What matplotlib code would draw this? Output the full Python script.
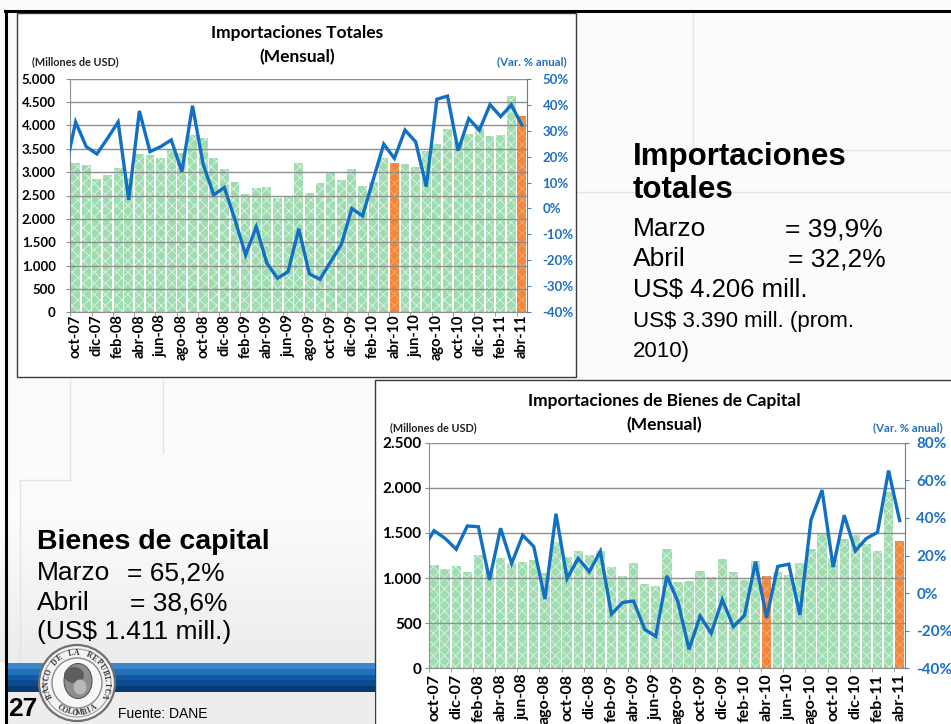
import numpy as np
import matplotlib
matplotlib.use('Agg')
import matplotlib.pyplot as plt
from matplotlib.patches import Rectangle, Circle, Ellipse

plt.rcParams['font.family'] = ['Lato', 'DejaVu Sans']
plt.rcParams['hatch.linewidth'] = 0.5

W, H = 951, 724

# ---------------- data ----------------
months = ['oct-07', 'nov-07', 'dic-07', 'ene-08', 'feb-08', 'mar-08', 'abr-08', 'may-08',
          'jun-08', 'jul-08', 'ago-08', 'sep-08', 'oct-08', 'nov-08', 'dic-08', 'ene-09',
          'feb-09', 'mar-09', 'abr-09', 'may-09', 'jun-09', 'jul-09', 'ago-09', 'sep-09',
          'oct-09', 'nov-09', 'dic-09', 'ene-10', 'feb-10', 'mar-10', 'abr-10', 'may-10',
          'jun-10', 'jul-10', 'ago-10', 'sep-10', 'oct-10', 'nov-10', 'dic-10', 'ene-11',
          'feb-11', 'mar-11', 'abr-11']
highlight = ['abr-10', 'abr-11']

# Importaciones totales (millones de USD)
tot_values = [3193, 3150, 2850, 2943, 3086, 2870, 3393, 3364, 3307, 3464, 3410, 3800,
              3736, 3300, 3071, 2793, 2536, 2664, 2679, 2450, 2500, 3186, 2550, 2757,
              2979, 2829, 3057, 2693, 2786, 3307, 3193, 3179, 3107, 3443, 3607, 3929,
              3640, 3821, 3943, 3779, 3793, 4640, 4206]
# variacion % anual (first value = sep-07, partly visible at the left edge)
tot_growth_prev = 14.3
tot_growth = [33.3, 23.8, 21.0, 27.0, 33.3, 3.3, 37.6, 21.9, 23.8, 26.4, 14.2, 39.6,
              17.1, 5.2, 8.1, -4.4, -17.9, -7.1, -21.1, -26.9, -24.3, -7.8, -25.2, -27.3,
              -20.5, -14.0, 0.0, -2.9, 11.0, 24.8, 19.3, 30.2, 25.7, 8.4, 42.1, 43.3,
              22.3, 34.6, 30.2, 40.0, 35.4, 39.9, 32.2]

# Importaciones de bienes de capital (millones de USD)
cap_values = [1141, 1100, 1130, 1070, 1259, 1070, 1218, 1167, 1174, 1204, 1056, 1396,
              1230, 1304, 1259, 1304, 1122, 1026, 1167, 937, 907, 1322, 955, 971,
              1078, 1015, 1208, 1065, 980, 1185, 1023, 1067, 1037, 1167, 1320, 1503,
              1225, 1437, 1477, 1377, 1298, 1958, 1411]
cap_growth_prev = 23.6
cap_growth = [33.2, 29.1, 23.3, 35.7, 35.3, 7.0, 34.5, 15.8, 30.8, 24.7, -3.2, 42.2,
              7.7, 18.5, 11.4, 22.2, -11.2, -5.0, -4.2, -19.3, -23.0, 9.2, -4.6, -29.9,
              -12.2, -21.4, -3.5, -17.8, -11.9, 16.7, -13.2, 14.2, 15.4, -11.6, 38.9, 54.8,
              13.8, 41.4, 22.5, 29.1, 32.3, 65.2, 38.6]

BLUE = '#1170c4'
TXTBLUE = '#1f6fc5'
GREEN = '#9fdcb0'
ORANGE = '#f3863a'
ARIAL = ['Liberation Sans', 'DejaVu Sans']

fig = plt.figure(figsize=(W / 100, H / 100), dpi=100)

# ---------------- slide background ----------------
bg = fig.add_axes([0, 0, 1, 1])
bg.set_xlim(0, W)
bg.set_ylim(H, 0)
bg.axis('off')
bg.add_patch(Rectangle((0, 0), W, H, color='#fbfbfb', zorder=0))
grad = np.linspace(0, 1, 50).reshape(-1, 1)
bg.imshow(grad, extent=[0, 375, 663, 500], cmap=matplotlib.colors.LinearSegmentedColormap.from_list(
    'g', ['#fdfdfd', '#ececec']), aspect='auto', zorder=0.5)
faint = '#e4e4e4'
for (x0, y0, x1, y1) in [(70, 380, 70, 480), (20, 480, 70, 480), (20, 480, 20, 663),
                         (163, 380, 163, 453), (693, 12, 693, 150), (693, 150, 951, 150),
                         (576, 192, 951, 192)]:
    bg.plot([x0, x1], [y0, y1], color=faint, lw=1, zorder=0.6)

# slide border
bg.plot([5, W], [11, 11], color='black', lw=2.2, zorder=5)
bg.plot([6, 6], [11, H], color='black', lw=2.2, zorder=5)

# chart boxes
bg.add_patch(Rectangle((17, 13), 559, 364, fc='white', ec='#3a3a3a', lw=1, zorder=1))
bg.add_patch(Rectangle((375, 380), 600, 360, fc='white', ec='#3a3a3a', lw=1, zorder=1))

# blue band and footer
bg.add_patch(Rectangle((7, 692), 368, 32, fc='#ededed', ec='none', zorder=1))
band = np.array([0.0, 0.15, 0.4, 0.7, 1.0]).reshape(-1, 1)
bg.imshow(band, extent=[7, 375, 692, 663], aspect='auto', zorder=1.2,
          cmap=matplotlib.colors.LinearSegmentedColormap.from_list(
              'b', ['#3b86cc', '#1663ad', '#0d55a0', '#0b4a8e', '#093a72']))

# logo
cx, cy, R = 77, 683, 38
bg.add_patch(Circle((cx, cy), R, fc='#f3f3f3', ec='#707070', lw=1.6, zorder=3))
bg.add_patch(Circle((cx, cy), R - 4, fc='none', ec='#9a9a9a', lw=0.8, zorder=3))
bg.add_patch(Circle((cx, cy), R - 13, fc='#f8f8f8', ec='#8a8a8a', lw=1.0, zorder=3))
bg.add_patch(Ellipse((cx + 1, cy - 2), 28, 35, fc='#8d8d8d', ec='#555555', lw=0.8, zorder=3.1))
bg.add_patch(Ellipse((cx - 3, cy - 8), 20, 16, fc='#5e5e5e', ec='none', zorder=3.2))
bg.add_patch(Ellipse((cx + 3, cy + 4), 13, 15, fc='#b8b8b8', ec='none', zorder=3.2))
top_txt = 'BANCO DE LA REPUBLICA'
angs = np.linspace(205, -25, len(top_txt))
for ch, a in zip(top_txt, angs):
    r = R - 8
    bg.text(cx + r * np.cos(np.radians(a)), cy - r * np.sin(np.radians(a)), ch,
            rotation=a - 90, ha='center', va='center', fontsize=5.5, fontweight='bold',
            family=['Liberation Serif', 'DejaVu Serif'], color='#333333', zorder=4)
bot_txt = 'COLOMBIA'
angs = np.linspace(236, 304, len(bot_txt))
for ch, a in zip(bot_txt, angs):
    r = R - 8
    bg.text(cx + r * np.cos(np.radians(a)), cy - r * np.sin(np.radians(a)), ch,
            rotation=a + 90, ha='center', va='center', fontsize=5.5, fontweight='bold',
            family=['Liberation Serif', 'DejaVu Serif'], color='#333333', zorder=4)

bg.text(8, 709, '27', fontsize=19, fontweight='bold', family=ARIAL, va='center', ha='left', zorder=5)
bg.text(118, 714, 'Fuente: DANE', fontsize=10, family=ARIAL, va='center', ha='left', zorder=5)

# right text block
bg.text(633, 157, 'Importaciones', fontsize=22.5, fontweight='bold', family=ARIAL, va='center', zorder=5)
bg.text(633, 190, 'totales', fontsize=22.5, fontweight='bold', family=ARIAL, va='center', zorder=5)
bg.text(633, 229, 'Marzo', fontsize=19, family=ARIAL, va='center', zorder=5)
bg.text(785, 229, '= 39,9%', fontsize=19, family=ARIAL, va='center', zorder=5)
bg.text(633, 259, 'Abril', fontsize=19, family=ARIAL, va='center', zorder=5)
bg.text(788, 259, '= 32,2%', fontsize=19, family=ARIAL, va='center', zorder=5)
bg.text(633, 290, 'US$ 4.206 mill.', fontsize=18.5, family=ARIAL, va='center', zorder=5)
bg.text(633, 321, 'US$ 3.390 mill. (prom.', fontsize=16, family=ARIAL, va='center', zorder=5)
bg.text(633, 351, '2010)', fontsize=16, family=ARIAL, va='center', zorder=5)

# left text block
bg.text(37, 542, 'Bienes de capital', fontsize=20.5, fontweight='bold', family=ARIAL, va='center', zorder=5)
bg.text(37, 573, 'Marzo', fontsize=19, family=ARIAL, va='center', zorder=5)
bg.text(127, 573, '= 65,2%', fontsize=19, family=ARIAL, va='center', zorder=5)
bg.text(37, 603, 'Abril', fontsize=19, family=ARIAL, va='center', zorder=5)
bg.text(130, 603, '= 38,6%', fontsize=19, family=ARIAL, va='center', zorder=5)
bg.text(37, 632, '(US$ 1.411 mill.)', fontsize=19, family=ARIAL, va='center', zorder=5)


def frac(l, t, r, b):
    return [l / W, 1 - b / H, (r - l) / W, (b - t) / H]


def make_chart(rect, values, growth, prev, ymax, gmin, gmax, gstep, lab_fs, xlab_fs,
               lpad, rpad, xpad, title, tx, ty, tfs, ml, mt, vr, vt):
    x = np.arange(len(months))
    vals = np.array(values, dtype=float)
    hl = np.array([m in highlight for m in months])
    ax = fig.add_axes(rect)
    ax.patch.set_alpha(0)
    ax.bar(x[~hl], vals[~hl], width=0.84, color=GREEN, edgecolor='#e9f8ee', linewidth=0,
           hatch='xxx', zorder=1)
    ax.bar(x[hl], vals[hl], width=0.84, color=ORANGE, edgecolor='#f8b27a', linewidth=0,
           hatch='xxx', zorder=1)
    ax.set_xlim(-0.5, len(months) - 0.5)
    ax.set_ylim(0, ymax)
    yt = np.arange(0, ymax + 1, 500)
    ax.set_yticks(yt)
    ax.set_yticklabels([f'{v:,.0f}'.replace(',', '.') for v in yt], fontweight='bold',
                       fontsize=lab_fs)
    ax.set_axisbelow(False)
    ax.yaxis.grid(True, color='#8f8f8f', lw=1.0)
    ax.set_xticks(x[::2])
    ax.set_xticklabels(months[::2], rotation=90, fontweight='bold', fontsize=xlab_fs)
    ax.set_xticks(np.arange(-0.5, len(months), 2), minor=True)
    ax.tick_params(axis='x', which='major', length=0, pad=xpad)
    ax.tick_params(axis='x', which='minor', length=3, color='#8f8f8f', direction='out')
    ax.tick_params(axis='y', length=3, color='#8f8f8f', pad=lpad)
    for s in ['top', 'right']:
        ax.spines[s].set_visible(False)
    ax.spines['left'].set_color('#8f8f8f')
    ax.spines['bottom'].set_color('#8f8f8f')

    axb = ax.twinx()
    axb.set_ylim(gmin, gmax)
    gt = np.arange(gmin, gmax + 1, gstep)
    axb.set_yticks(gt)
    axb.set_yticklabels([f'{v:.0f}%' for v in gt], fontweight='bold', fontsize=lab_fs,
                        color=TXTBLUE)
    axb.tick_params(axis='y', length=3, color='#4f81bd', pad=rpad)
    for s in ['top', 'left', 'bottom']:
        axb.spines[s].set_visible(False)
    axb.spines['right'].set_color('#4f81bd')
    xl = np.arange(-1, len(months))
    axb.plot(xl, [prev] + list(growth), color=BLUE, lw=2.4, solid_joinstyle='miter',
             zorder=3)

    bg.text(tx, ty, title, ha='center', va='center', fontsize=tfs, fontweight='bold', zorder=5)
    bg.text(tx, ty + 24, '(Mensual)', ha='center', va='center', fontsize=tfs, fontweight='bold', zorder=5)
    bg.text(ml, mt, '(Millones de USD)', ha='left', va='center', fontsize=7.8,
            fontweight='bold', color='#222222', zorder=5)
    bg.text(vr, vt, '(Var. % anual)', ha='left', va='center', fontsize=8.2,
            fontweight='bold', color=TXTBLUE, zorder=5)
    return ax, axb


make_chart(frac(70.3, 78.7, 527.2, 312.3), tot_values, tot_growth, tot_growth_prev,
           5000, -40, 50, 10, 9.5, 10.5, 7.5, 8, 1.5,
           'Importaciones Totales', 297, 33, 12.5, 32, 62, 497, 62)
make_chart(frac(428.5, 442.7, 905.2, 668.3), cap_values, cap_growth, cap_growth_prev,
           2500, -40, 80, 20, 11, 11.5, 2, 5, 4,
           'Importaciones de Bienes de Capital', 664, 401, 12.5, 390, 428, 873, 428)

fig.savefig('out.png', dpi=100)
